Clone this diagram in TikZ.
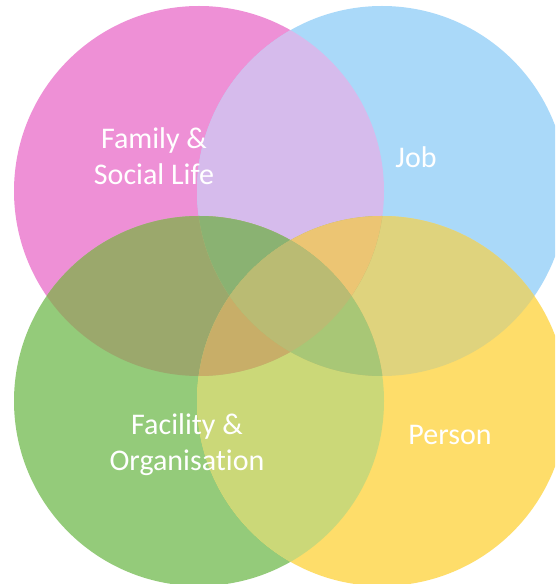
\documentclass[tikz,border=0pt]{standalone}
\usepackage{fontspec}
\setmainfont{Carlito}[Ligatures=NoCommon]
\definecolor{vpink}{HTML}{EE90D6}
\definecolor{vblue}{HTML}{AAD9F9}
\definecolor{vgreen}{HTML}{94CB7A}
\definecolor{vyellow}{HTML}{FEDD6A}
\definecolor{pb}{HTML}{D6BBEC}
\definecolor{pg}{HTML}{9BA86C}
\definecolor{by}{HTML}{DFD37D}
\definecolor{gy}{HTML}{CBD878}
\definecolor{pbg}{HTML}{8AB272}
\definecolor{pby}{HTML}{ECC573}
\definecolor{pgy}{HTML}{C8AE68}
\definecolor{bgy}{HTML}{A8C776}
\definecolor{pbgy}{HTML}{BABB73}
\tikzset{label text/.style={text=white,align=center,font=\fontsize{30}{36}\selectfont}}
\begin{document}
\begin{tikzpicture}[x=1pt,y=1pt]
			\def\rad{185};
			\clip (0,0) rectangle (555,584);
			\fill[white] (0,0) rectangle (555,584);
			\coordinate (p) at (199,393);
			\coordinate (b) at (382,393);
			\coordinate (g) at (199,183);
			\coordinate (y) at (382,183);
			% the four circles
			\fill[vpink] (p) circle (\rad);
			\fill[vblue] (b) circle (\rad);
			\fill[vgreen] (g) circle (\rad);
			\fill[vyellow] (y) circle (\rad);
			% overlaps of two
			\foreach \a/\b/\c in {p/b/pb,p/g/pg,b/y/by,g/y/gy,p/y/pbgy,b/g/pbgy}
			{
				\begin{scope}
					\clip (\a) circle (\rad);
					\fill[\c] (\b) circle (\rad);
				\end{scope}
			}
			% overlaps of three and four
			\foreach \a/\b/\d/\c in {p/b/g/pbg,p/b/y/pby,p/g/y/pgy,b/g/y/bgy}
			{
				\begin{scope}
					\clip (\a) circle (\rad);
					\clip (\b) circle (\rad);
					\fill[\c] (\d) circle (\rad);
				\end{scope}
			}
			\begin{scope}
				\clip (p) circle (\rad);
				\clip (b) circle (\rad);
				\clip (g) circle (\rad);
				\fill[pbgy] (y) circle (\rad);
			\end{scope}
			\node[label text] (family) at (154,428) {Family \&\\Social Life};
			\node[label text] (job) at (416,427) {Job};
			\node[label text] (facility) at (187,139) {Facility \&\\Organisation};
			\node[label text] (person) at (450,149) {Person};
		\end{tikzpicture}
\end{document}
